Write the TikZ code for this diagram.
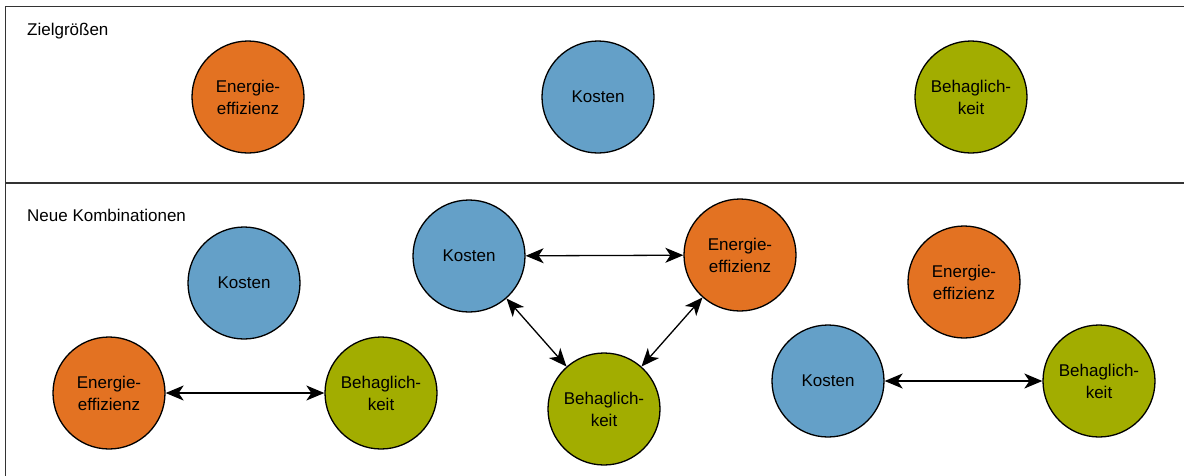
\documentclass[tikz,border=0pt]{standalone}
\usepackage{fontspec}
\setmainfont{Liberation Sans}
\usetikzlibrary{arrows.meta}
\definecolor{cOrange}{HTML}{E37222}
\definecolor{cBlue}{HTML}{64A0C8}
\definecolor{cGreen}{HTML}{A2AD00}
\definecolor{frameGray}{HTML}{333333}
\tikzset{
  >={Stealth[length=18pt,width=15pt,inset=5pt]},
  goal/.style={circle, draw=black, line width=1.3pt, minimum size=112pt, inner sep=0pt,
    align=center, font=\fontsize{17}{22}\selectfont},
  energy/.style={goal, fill=cOrange},
  cost/.style={goal, fill=cBlue},
  comfort/.style={goal, fill=cGreen},
  link/.style={line width=1.3pt, <->},
  frameline/.style={draw=frameGray, line width=1.6pt},
  heading/.style={anchor=west, inner sep=0pt, font=\fontsize{17}{20}\selectfont}
}
\begin{document}
\begin{tikzpicture}[x=1pt, y=-1pt]
  \useasboundingbox (0,0) rectangle (1184,475);

  % frame of the two panels
  \coordinate (tl) at (5.5,6.5);
  \coordinate (tr) at (1186,6.5);
  \coordinate (bl) at (5.5,477);
  \coordinate (ml) at (5.5,183);
  \coordinate (mr) at (1186,183);
  \draw[frameline] (tr) -- (tl) -- (bl);
  \draw[frameline] (ml) -- (mr);

  % headings
  \node[heading] (h1) at (27,31) {Zielgrößen};
  \node[heading] (h2) at (27,215) {Neue Kombinationen};

  % target quantities
  \node[energy]  (e0) at (248,97) {Energie-\\effizienz};
  \node[cost]    (k0) at (598,97) {Kosten};
  \node[comfort] (b0) at (971,97) {Behaglich-\\keit};

  % combination 1
  \node[cost]    (k1) at (244,283) {Kosten};
  \node[energy]  (e1) at (109,393) {Energie-\\effizienz};
  \node[comfort] (b1) at (381,393) {Behaglich-\\keit};
  \draw[link] (e1) -- (b1);

  % combination 2
  \node[cost]    (k2) at (469,256) {Kosten};
  \node[energy]  (e2) at (740,255) {Energie-\\effizienz};
  \node[comfort] (b2) at (604,409) {Behaglich-\\keit};
  \draw[link] (k2) -- (e2);
  \draw[link] (k2) -- (b2);
  \draw[link] (b2) -- (e2);

  % combination 3
  \node[energy]  (e3) at (964,282) {Energie-\\effizienz};
  \node[cost]    (k3) at (828,381) {Kosten};
  \node[comfort] (b3) at (1099,381) {Behaglich-\\keit};
  \draw[link] (k3) -- (b3);
\end{tikzpicture}
\end{document}
